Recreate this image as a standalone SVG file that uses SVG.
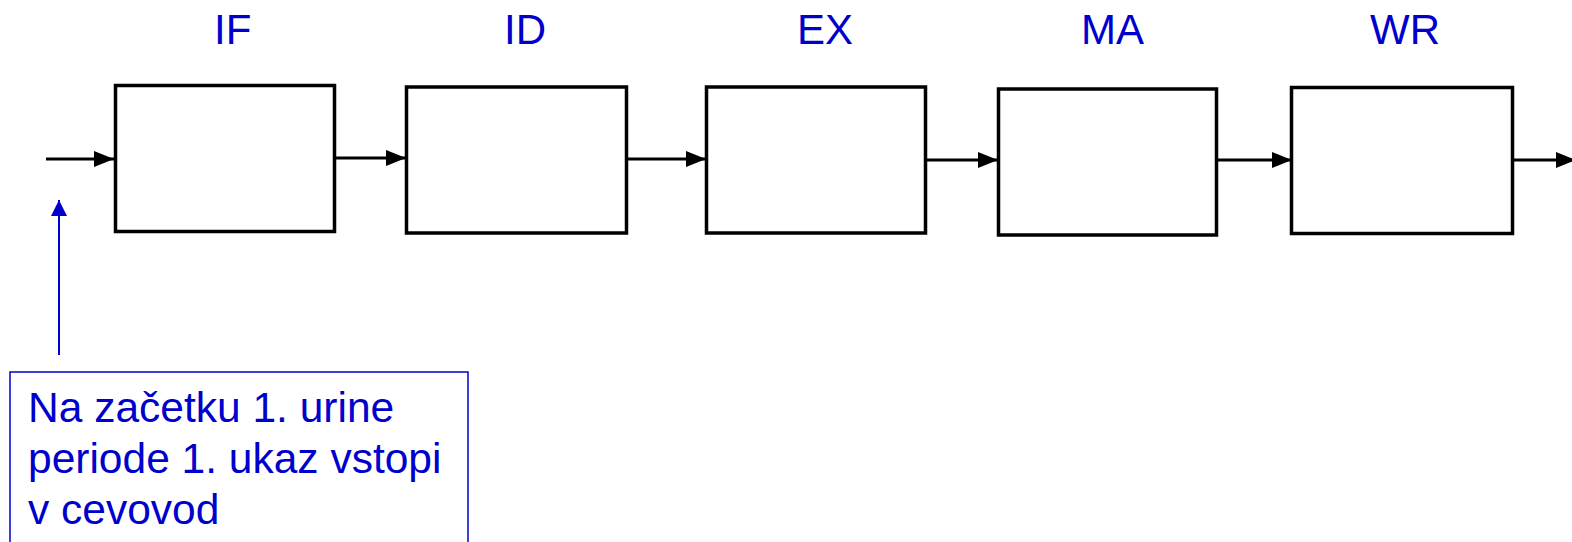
<svg xmlns="http://www.w3.org/2000/svg" width="1572" height="542" viewBox="0 0 1572 542">
<defs>
<style>
.stage{fill:#fff;stroke:#000;stroke-width:3.5}
.lbl{font-family:"Liberation Sans",Arial,sans-serif;font-size:42px;fill:#0000CC}
.note{font-family:"Liberation Sans",Arial,sans-serif;font-size:42.5px;fill:#0000CC}
.con{stroke:#000;stroke-width:3.2;fill:none}
</style>
<marker id="ah" markerUnits="userSpaceOnUse" markerWidth="20" markerHeight="16" refX="20" refY="8" orient="auto">
<path d="M0,0 L20,8 L0,16 Z" fill="#000"/>
</marker>
<marker id="ahb" markerUnits="userSpaceOnUse" markerWidth="16" markerHeight="16" refX="16" refY="8" orient="auto">
<path d="M0,0 L16,8 L0,16 Z" fill="#0000CC"/>
</marker>
</defs>
<rect width="1572" height="542" fill="#fff"/>
<g id="connectors">
<line class="con" x1="46" y1="159" x2="114" y2="159" marker-end="url(#ah)"/>
<line class="con" x1="336" y1="158" x2="406" y2="158" marker-end="url(#ah)"/>
<line class="con" x1="628" y1="159" x2="706" y2="159" marker-end="url(#ah)"/>
<line class="con" x1="927" y1="160" x2="998" y2="160" marker-end="url(#ah)"/>
<line class="con" x1="1218" y1="160" x2="1292" y2="160" marker-end="url(#ah)"/>
<line class="con" x1="1514" y1="160" x2="1576" y2="160" marker-end="url(#ah)"/>
<line x1="59" y1="355" x2="59" y2="200" stroke="#0000CC" stroke-width="2" marker-end="url(#ahb)"/>
</g>
<g id="IF"><rect class="stage" x="115.5" y="85.5" width="219" height="146"/><text class="lbl" x="214" y="44">IF</text></g>
<g id="ID"><rect class="stage" x="406.5" y="87" width="220" height="146"/><text class="lbl" x="504" y="44">ID</text></g>
<g id="EX"><rect class="stage" x="706.5" y="87" width="219" height="146"/><text class="lbl" x="797" y="44">EX</text></g>
<g id="MA"><rect class="stage" x="998.5" y="89" width="218" height="146"/><text class="lbl" x="1081" y="44">MA</text></g>
<g id="WR"><rect class="stage" x="1291.5" y="87.5" width="221" height="146"/><text class="lbl" x="1370" y="44">WR</text></g>
<g id="note">
<rect x="10" y="372" width="458" height="200" fill="#fff" stroke="#0000CC" stroke-width="1.5"/>
<text class="note" x="28" y="422">Na začetku 1. urine</text>
<text class="note" x="28" y="473">periode 1. ukaz vstopi</text>
<text class="note" x="28" y="524">v cevovod</text>
</g>
</svg>
